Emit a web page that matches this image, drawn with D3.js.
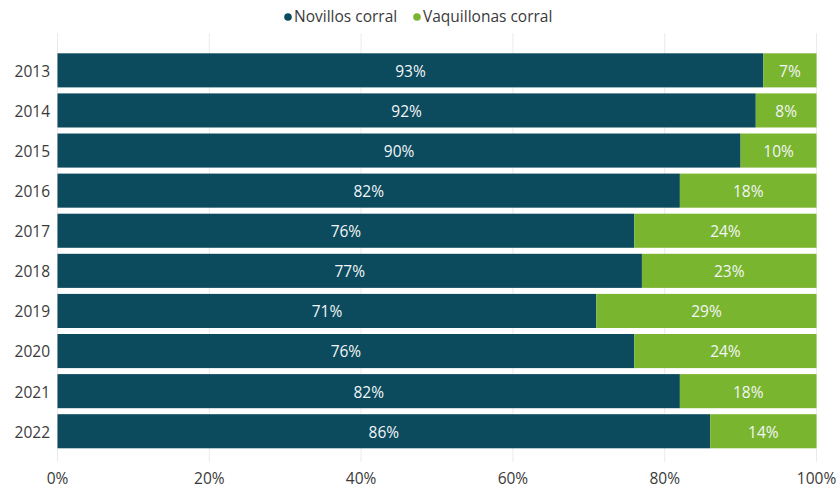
<!DOCTYPE html>
<html>
<head>
<meta charset="utf-8">
<script src="https://cdn.jsdelivr.net/npm/d3@7"></script>
<style>
  html, body { margin: 0; padding: 0; background: #ffffff; }
  svg { display: block; font-family: "Open Sans", "Noto Sans", sans-serif; }
</style>
</head>
<body>
<svg id="chart" width="839" height="488"></svg>
<script>
// Share of feedlot slaughter by category, per year
const years = ["2013", "2014", "2015", "2016", "2017", "2018", "2019", "2020", "2021", "2022"];
const novillos = [93, 92, 90, 82, 76, 77, 71, 76, 82, 86];
const vaquillonas = [7, 8, 10, 18, 24, 23, 29, 24, 18, 14];
const seriesNames = ["Novillos corral", "Vaquillonas corral"];
const seriesColors = ["#0c4a5e", "#7ab52f"];
const xTicks = [0, 20, 40, 60, 80, 100];

const svg = d3.select("#chart");
const plotLeft = 57.5, plotRight = 816.5, plotTop = 50.3, plotBottom = 451.3;
const fontSize = 15.5;

const x = d3.scaleLinear().domain([0, 100]).range([plotLeft, plotRight]);
const y = d3.scaleBand().domain(years).range([plotTop, plotBottom])
  .paddingInner(0.15).paddingOuter(0.075);

// vertical gridlines
svg.append("g")
  .selectAll("line")
  .data(xTicks)
  .join("line")
  .attr("x1", d => x(d)).attr("x2", d => x(d))
  .attr("y1", 33).attr("y2", 462)
  .attr("stroke", "#ebebeb").attr("stroke-width", 1);

// stacked bars
const rows = years.map((yr, i) => ({ year: yr, Novillos: novillos[i], Vaquillonas: vaquillonas[i] }));
const stack = d3.stack().keys(["Novillos", "Vaquillonas"]);
const stacked = stack(rows);

const groups = svg.append("g")
  .selectAll("g")
  .data(stacked)
  .join("g")
  .attr("fill", (d, i) => seriesColors[i]);

groups.selectAll("rect")
  .data(d => d)
  .join("rect")
  .attr("x", d => x(d[0]))
  .attr("width", d => x(d[1]) - x(d[0]))
  .attr("y", d => y(d.data.year))
  .attr("height", y.bandwidth());

// value labels
groups.selectAll("text")
  .data(d => d.map(v => ({ v, val: v[1] - v[0] })))
  .join("text")
  .attr("x", d => (x(d.v[0]) + x(d.v[1])) / 2)
  .attr("y", d => y(d.v.data.year) + y.bandwidth() / 2 + 1)
  .attr("dy", "0.35em")
  .attr("text-anchor", "middle")
  .attr("fill", "#f2f6f7")
  .attr("font-size", fontSize)
  .text(d => d.val + "%");

// year labels
svg.append("g")
  .selectAll("text")
  .data(years)
  .join("text")
  .attr("x", 50)
  .attr("y", d => y(d) + y.bandwidth() / 2 + 1)
  .attr("dy", "0.35em")
  .attr("text-anchor", "end")
  .attr("fill", "#3a3a3a")
  .attr("font-size", fontSize)
  .text(d => d);

// x axis labels
svg.append("g")
  .selectAll("text")
  .data(xTicks)
  .join("text")
  .attr("x", d => x(d))
  .attr("y", 479)
  .attr("dy", "0.35em")
  .attr("text-anchor", "middle")
  .attr("fill", "#3a3a3a")
  .attr("font-size", fontSize)
  .text(d => d + "%");

// legend
const legend = svg.append("g").attr("transform", "translate(0,17)");
const legendItems = [{ x: 288 }, { x: 417 }];
legendItems.forEach((it, i) => {
  legend.append("circle").attr("cx", it.x).attr("cy", 0).attr("r", 3.8).attr("fill", seriesColors[i]);
  legend.append("text").attr("x", it.x + 6).attr("y", 0).attr("dy", "0.35em")
    .attr("fill", "#3a3a3a").attr("font-size", fontSize).text(seriesNames[i]);
});
</script>
</body>
</html>
